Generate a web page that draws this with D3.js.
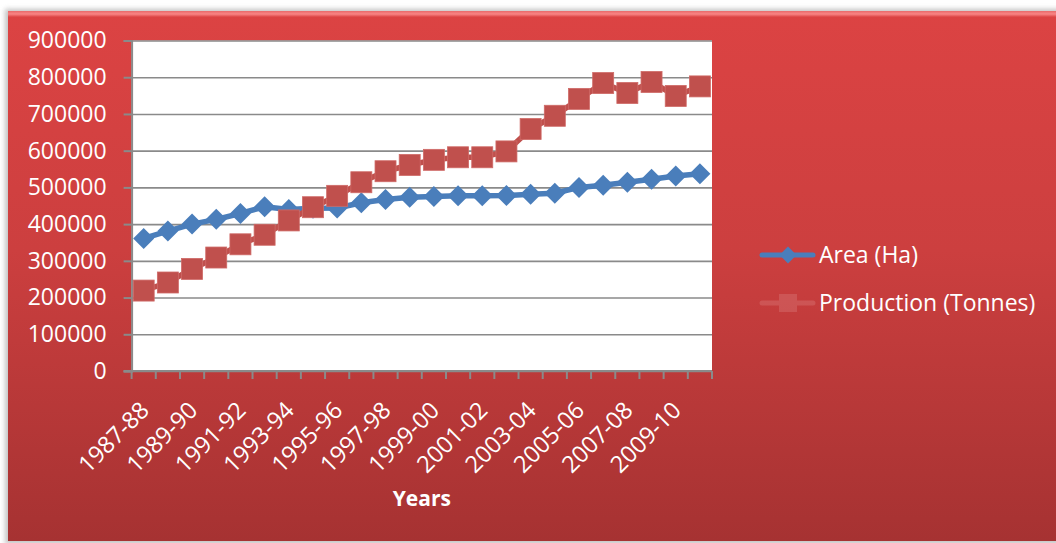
<!DOCTYPE html>
<html>
<head>
<meta charset="utf-8">
<script src="https://cdn.jsdelivr.net/npm/d3@7"></script>
<style>
  html, body { margin: 0; padding: 0; background: #ffffff; }
  svg { display: block; font-family: "Open Sans", "DejaVu Sans", sans-serif; }
</style>
</head>
<body>
<svg id="chart" width="1056" height="543"></svg>
<script>
// Crop seasons, 1987-88 through 2010-11
const categories = [
  "1987-88", "1988-89", "1989-90", "1990-91", "1991-92", "1992-93",
  "1993-94", "1994-95", "1995-96", "1996-97", "1997-98", "1998-99",
  "1999-00", "2000-01", "2001-02", "2002-03", "2003-04", "2004-05",
  "2005-06", "2006-07", "2007-08", "2008-09", "2009-10", "2010-11"
];

// Area under cultivation (hectares)
const areaHa = [
  361000, 381000, 400000, 413000, 429000, 447000,
  440000, 443000, 444000, 458000, 467000, 473000,
  475000, 477000, 477000, 478000, 481000, 484000,
  500000, 506000, 514000, 522000, 531000, 537000
];

// Production (tonnes)
const productionTonnes = [
  219000, 241000, 278000, 309000, 345000, 371000,
  410000, 446000, 477000, 514000, 544000, 561000,
  575000, 582000, 582000, 598000, 659000, 695000,
  741000, 784000, 757000, 787000, 749000, 775000
];

const yTickValues = [0, 100000, 200000, 300000, 400000, 500000, 600000, 700000, 800000, 900000];

const seriesNames = ["Area (Ha)", "Production (Tonnes)"];
const axisTitle = "Years";

const W = 1056, H = 543;
const plot = { left: 131.6, right: 712, top: 40.5, bottom: 371 };

const svg = d3.select("#chart");
const defs = svg.append("defs");

const bg = defs.append("linearGradient").attr("id", "bgGrad")
  .attr("x1", 0).attr("y1", 0).attr("x2", 0).attr("y2", 1);
bg.append("stop").attr("offset", "0%").attr("stop-color", "#dc4343");
bg.append("stop").attr("offset", "45%").attr("stop-color", "#cc3f3f");
bg.append("stop").attr("offset", "100%").attr("stop-color", "#a63232");

const hl = defs.append("linearGradient").attr("id", "hlGrad")
  .attr("x1", 0).attr("y1", 0).attr("x2", 0).attr("y2", 1);
hl.append("stop").attr("offset", "0%").attr("stop-color", "#e86a6a");
hl.append("stop").attr("offset", "50%").attr("stop-color", "#f98585");
hl.append("stop").attr("offset", "100%").attr("stop-color", "#dc4545");

const shadow = defs.append("filter").attr("id", "shadow")
  .attr("x", "-5%").attr("y", "-5%").attr("width", "110%").attr("height", "110%");
shadow.append("feGaussianBlur").attr("stdDeviation", 2.5);

// Chart background panel
svg.append("rect").attr("x", 5).attr("y", 9).attr("width", W).attr("height", 535)
  .attr("fill", "#9a9a9a").attr("opacity", 0.6).attr("filter", "url(#shadow)");
svg.append("rect").attr("x", 8).attr("y", 11).attr("width", W - 8).attr("height", 530)
  .attr("fill", "url(#bgGrad)");
svg.append("rect").attr("x", 8).attr("y", 11).attr("width", W - 8).attr("height", 6)
  .attr("fill", "url(#hlGrad)");

// Scales
const x = d3.scaleBand().domain(categories).range([plot.left, plot.right]).paddingInner(0).paddingOuter(0);
const y = d3.scaleLinear().domain([0, 900000]).range([plot.bottom, plot.top]);
const cx = c => x(c) + x.bandwidth() / 2;

// Plot area
svg.append("rect")
  .attr("x", plot.left).attr("y", plot.top)
  .attr("width", plot.right - plot.left).attr("height", plot.bottom - plot.top)
  .attr("fill", "#ffffff");

// Horizontal gridlines
svg.append("g")
  .attr("transform", `translate(${plot.left},0)`)
  .call(d3.axisLeft(y).tickValues(yTickValues).tickSize(-(plot.right - plot.left)).tickFormat(""))
  .call(g => g.select(".domain").remove())
  .call(g => g.selectAll("line").attr("stroke", "#8a8a8a").attr("stroke-width", 1.6));

// Y axis with labels
svg.append("g")
  .attr("transform", `translate(${plot.left},0)`)
  .call(d3.axisLeft(y).tickValues(yTickValues).tickSize(8).tickPadding(17).tickFormat(d3.format("d")))
  .call(g => g.select(".domain").attr("stroke", "#8a8a8a").attr("stroke-width", 2))
  .call(g => g.selectAll("line").attr("stroke", "#8a8a8a").attr("stroke-width", 2))
  .call(g => g.selectAll("text")
    .attr("fill", "#ffffff").attr("font-size", 23)
    .attr("font-family", "'Open Sans', sans-serif"));

// X axis line and boundary ticks
const xAxis = svg.append("g");
xAxis.append("line")
  .attr("x1", plot.left - 8).attr("x2", plot.right)
  .attr("y1", plot.bottom).attr("y2", plot.bottom)
  .attr("stroke", "#8a8a8a").attr("stroke-width", 2);
const boundaries = categories.map(c => x(c)).concat([x(categories[categories.length - 1]) + x.bandwidth()]);
xAxis.selectAll("line.tick").data(boundaries).join("line")
  .attr("class", "tick")
  .attr("x1", d => d).attr("x2", d => d)
  .attr("y1", plot.bottom).attr("y2", plot.bottom + 8)
  .attr("stroke", "#8a8a8a").attr("stroke-width", 2);

// Category labels (every other season), rotated
xAxis.selectAll("text.cat").data(categories.filter((c, i) => i % 2 === 0)).join("text")
  .attr("class", "cat")
  .attr("transform", d => `translate(${cx(d) + 1},${plot.bottom + 35}) rotate(-45)`)
  .attr("text-anchor", "end")
  .attr("dy", "0.35em")
  .attr("fill", "#ffffff")
  .attr("font-size", 23.5)
  .text(d => d);

// Axis title
svg.append("text")
  .attr("x", (plot.left + plot.right) / 2).attr("y", 506)
  .attr("text-anchor", "middle")
  .attr("fill", "#ffffff").attr("font-size", 21).attr("font-weight", "bold")
  .text(axisTitle);

const blue = "#4a7ebb", red = "#c0504d";
const line = d3.line().x(d => cx(d.c)).y(d => y(d.v));
const areaPts = categories.map((c, i) => ({ c, v: areaHa[i] }));
const prodPts = categories.map((c, i) => ({ c, v: productionTonnes[i] }));

function diamondPath(size) {
  const r = size / 2;
  return `M0,${-r}L${r},0L0,${r}L${-r},0Z`;
}

// Area series
svg.append("path").datum(areaPts)
  .attr("d", line).attr("fill", "none")
  .attr("stroke", blue).attr("stroke-width", 5.5).attr("stroke-linejoin", "round");
svg.append("g").selectAll("path").data(areaPts).join("path")
  .attr("transform", d => `translate(${cx(d.c)},${y(d.v)})`)
  .attr("d", diamondPath(21))
  .attr("fill", blue);

// Production series
svg.append("path").datum(prodPts)
  .attr("d", line).attr("fill", "none")
  .attr("stroke", red).attr("stroke-width", 5.5).attr("stroke-linejoin", "round");
svg.append("g").selectAll("rect").data(prodPts).join("rect")
  .attr("x", d => cx(d.c) - 10.5).attr("y", d => y(d.v) - 10.5)
  .attr("width", 21).attr("height", 21)
  .attr("fill", red).attr("stroke", "#cf6a67").attr("stroke-width", 0.8);

// Legend
const legend = svg.append("g");
legend.append("line").attr("x1", 762).attr("x2", 813).attr("y1", 255).attr("y2", 255)
  .attr("stroke", blue).attr("stroke-width", 5).attr("stroke-linecap", "round");
legend.append("path").attr("transform", "translate(788,255)").attr("d", diamondPath(17)).attr("fill", blue);
legend.append("text").attr("x", 819).attr("y", 263)
  .attr("fill", "#ffffff").attr("font-size", 23).text(seriesNames[0]);

const faded = legend.append("g").attr("opacity", 0.22);
faded.append("line").attr("x1", 762).attr("x2", 813).attr("y1", 303).attr("y2", 303)
  .attr("stroke", "#e9a9a9").attr("stroke-width", 5).attr("stroke-linecap", "round");
faded.append("rect").attr("x", 779).attr("y", 294).attr("width", 18).attr("height", 18)
  .attr("fill", "#e9a9a9");
legend.append("text").attr("x", 819).attr("y", 311)
  .attr("fill", "#ffffff").attr("font-size", 23).text(seriesNames[1]);
</script>
</body>
</html>
